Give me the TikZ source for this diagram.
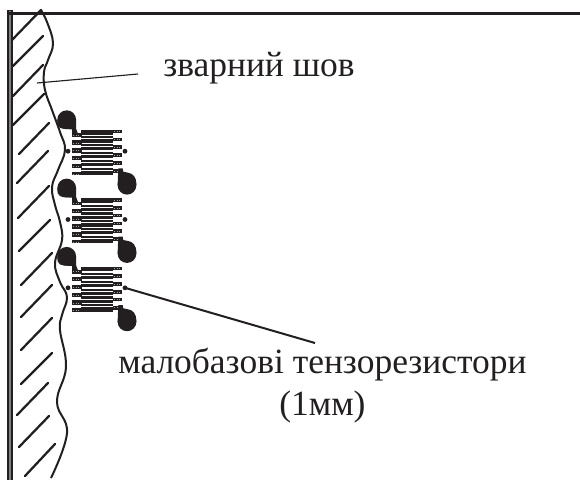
\documentclass[tikz,border=0pt]{standalone}
\usepackage{fontspec}
\setmainfont{Liberation Serif}
\definecolor{ink}{HTML}{231F20}
\tikzset{
  hatchline/.style={draw=ink,line width=1.7pt,line cap=round},
  weld/.style={draw=ink,line width=1.5pt},
  leader/.style={draw=ink,line width=1.5pt},
  thinleader/.style={draw=ink,line width=.85pt},
  label/.style={inner sep=0pt,text=ink,font=\fontsize{26.6}{32}\selectfont,anchor=base west},
  padmark/.style={draw=gray!70,line width=.35pt,dash pattern=on .8pt off 1.2pt},
  blob/.style={fill=ink,draw=none},
  cut/.style={fill=white,draw=none},
  dot/.style={circle,fill=ink,inner sep=0pt,minimum size=3.6pt},
}
\begin{document}
\begin{tikzpicture}[x=.75pt,y=-.75pt]
\useasboundingbox (0,0) rectangle (580,480);
% wall
\draw[draw=ink,line width=4pt] (10,10) -- (10,480);
\draw[draw=gray,line width=1.4pt] (10,11) -- (10,480);
\draw[draw=ink,line width=2.2pt] (8,13.5) -- (580,13.5);
% hatching
\foreach \xa/\ya/\xb/\yb in {41/10/12/40,43/36/13/66,43/65/13/96,44/94/13/125,49/123/19/154,48/151/17/183,49/186/18/218,50/220/19/251,52/253/21/285,52/285/21/317,52/318/21/350,52/353/21/384,48/383/17/415,49/416/19/447,55/444/25/476}
  \draw[hatchline] (\xa,\ya) -- (\xb,\yb);
% weld seam
\draw[weld] plot[smooth,tension=.7] coordinates {(41,10) (47,22) (53,43) (48,60) (44,72) (45,90) (52,110) (60,132) (65,150) (58,170) (52,187) (55,205) (60,222) (62,240) (55,263) (60,282) (67,297) (62,315) (60,330) (66,367) (57,402) (67,433) (51,478)};
% strain gauges
\foreach \g/\ty in {a/131.7,b/200,c/268.3}{
  \begin{scope}[shift={(0,\ty)}]
    % solid grid, then the slits that make it a meander
    \fill[blob] (72,-1.7) rectangle (122,43.3);
    \fill[cut] (71,-2.5) rectangle (81,1.7);
    \fill[cut] (113,41.2) rectangle (123,44);
    \foreach \k in {0,...,4}{
      \fill[cut] (82,{3.85+7.83*\k-0.75}) rectangle (113,{3.85+7.83*\k+0.75});
      \fill[cut] (113,{3.85+7.83*\k-2.1}) rectangle (123,{3.85+7.83*\k+2.1});
      \fill[cut] (81,{6.9+7.83*\k-0.2}) rectangle (113,{6.9+7.83*\k+0.2});
      \fill[cut] (71,{6.9+7.83*\k-1.7}) rectangle (81,{6.9+7.83*\k+1.7});
    }
    \foreach \k in {0,...,5}{
      \draw[padmark] (114,{7.83*\k}) -- (121.5,{7.83*\k});
      \draw[padmark] (73,{3.2+7.83*\k}) -- (80.5,{3.2+7.83*\k});
    }
    % solder pads
    \fill[blob] (66.7,-12) circle (7.05pt);
    \fill[blob] (57.3,-12) -- (57.6,-7) .. controls (58.5,-4) and (61,-3) .. (64,-2.8) -- (72,-2.3) -- (72,2) -- (78,2) -- (76.1,-3) -- (76.1,-12) -- cycle;
    \fill[blob] (127,53.5) circle (7.05pt);
    \fill[blob] (117.6,53.5) -- (118.3,36.7) -- (122.7,36.7) -- (123.3,40) -- (128,41) .. controls (133,41.5) and (136.4,46) .. (136.4,52) -- (136.4,53.5) -- cycle;
    \node[dot] (left\g) at (68,19.5) {};
    \node[dot] (right\g) at (125,19.5) {};
  \end{scope}
}
% labels
\node[label] (seam) at (163,76) {зварний шов};
\node[label] (gauges) at (118,373) {малобазові тензорезистори};
\node[label] (size) at (279,415) {(1мм)};
% leaders
\coordinate (seamA) at (37,83);
\coordinate (seamB) at (138,74);
\coordinate (gaugeB) at (315,343);
\draw[thinleader] (seamA) -- (seamB);
\draw[leader] (rightc.center) -- (gaugeB);
\end{tikzpicture}
\end{document}
